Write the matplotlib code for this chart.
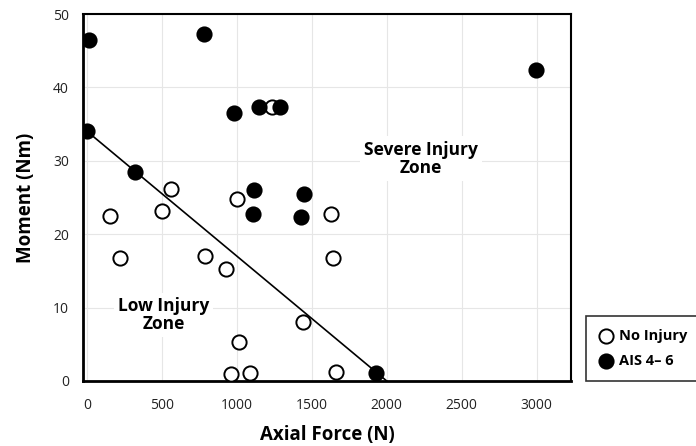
import matplotlib.pyplot as plt

plt.rcParams['font.family'] = ['Open Sans', 'DejaVu Sans']

# axial force (N) / moment (Nm)
no_injury_x = [1236, 562, 1000, 502, 151, 1625, 218, 785, 929, 1640, 1440, 1011, 958, 1085, 1658]
no_injury_y = [37.3, 26.2, 24.8, 23.1, 22.5, 22.7, 16.8, 17.0, 15.3, 16.8, 8.1, 5.3, 1.0, 1.1, 1.2]

ais_x = [13, 778, 0, 318, 980, 1147, 1285, 1111, 1447, 1107, 1425, 2997, 1925]
ais_y = [46.4, 47.3, 34.0, 28.5, 36.5, 37.3, 37.3, 26.0, 25.5, 22.7, 22.4, 42.4, 1.1]

# threshold line
line_x = [0, 2000]
line_y = [34, 0]

fig = plt.figure(figsize=(6.96, 4.46), dpi=100)
ax = fig.add_axes([83/696, 1 - 381/446, (571-83)/696, (381-14)/446])

ax.grid(True, color='#e6e6e6', lw=0.8, zorder=0)
ax.set_axisbelow(True)

ax.plot(line_x, line_y, color='black', lw=1.2, zorder=2)
ax.scatter(no_injury_x, no_injury_y, s=105, facecolor='white', edgecolor='black',
           linewidth=1.4, zorder=3, label='No Injury')
ax.scatter(ais_x, ais_y, s=105, facecolor='black', edgecolor='black',
           linewidth=1.4, zorder=3, label='AIS 4– 6')

box = dict(facecolor='white', edgecolor='none', pad=3)
ax.text(510, 9.0, 'Low Injury\nZone', ha='center', va='center', fontsize=12.5,
        fontweight='bold', linespacing=1.0, bbox=box, zorder=1.5)
ax.text(2230, 30.3, 'Severe Injury\nZone', ha='center', va='center', fontsize=12.5,
        fontweight='bold', linespacing=1.0, bbox=box, zorder=1.5)

ax.set_xlim(-28, 3230)
ax.set_ylim(0, 49.6)
ax.set_xticks([0, 500, 1000, 1500, 2000, 2500, 3000])
ax.set_yticks([0, 10, 20, 30, 40, 50])
ax.tick_params(length=0, labelsize=10, colors='#222222')
ax.tick_params(axis='x', pad=12)
ax.tick_params(axis='y', pad=10)

for side in ['left', 'bottom']:
    ax.spines[side].set_linewidth(2)
for side in ['top', 'right']:
    ax.spines[side].set_linewidth(1.5)

ax.set_xlabel('Axial Force (N)', fontsize=13.5, fontweight='bold', labelpad=9)
ax.set_ylabel('Moment (Nm)', fontsize=13.5, fontweight='bold', labelpad=12)

leg = fig.legend(loc='lower left', bbox_to_anchor=(586/696, 65/446), borderaxespad=0,
                 frameon=True, fancybox=False, edgecolor='black',
                 prop={'weight': 'bold', 'size': 10.5}, handletextpad=0.35,
                 borderpad=0.9, labelspacing=0.75, handlelength=1.0, markerscale=1.0)
leg.get_frame().set_linewidth(1.2)

fig.savefig('out.png', dpi=100)
